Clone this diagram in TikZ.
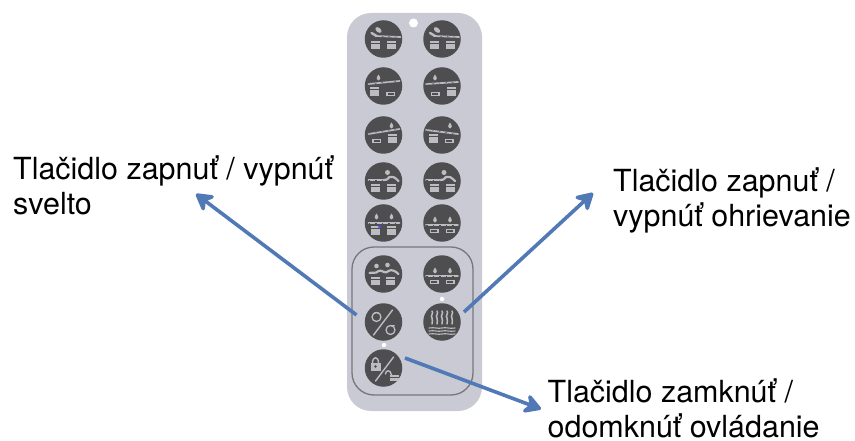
\documentclass[tikz,border=0pt]{standalone}
\usepackage{fontspec}
\setmainfont{TeX Gyre Heros}
\usetikzlibrary{arrows.meta}
\definecolor{bodyc}{HTML}{C9CAD3}
\definecolor{btnc}{HTML}{4E4E50}
\definecolor{glyphc}{HTML}{BDBDC1}
\definecolor{framec}{HTML}{77777D}
\definecolor{arrowc}{HTML}{5079B5}
\tikzset{x=1pt,y=-1pt,
  btn/.style={circle,fill=btnc,draw=none,minimum size=37.5pt,inner sep=0pt},
  lbl/.style={font=\fontsize{30.45}{35.6}\selectfont,text=black,align=left,anchor=north west,inner sep=0pt},
  callout/.style={draw=arrowc,line width=3.6pt,-{Stealth[length=21pt,width=24pt,inset=7pt,round]}},
  gl/.style={draw=glyphc,line width=1.7pt,line cap=round,line join=round},
  dot/.style={circle,fill=white,draw=none,inner sep=0pt}}
% pot: centre x, top y1, bottom y2 (local to the button)
\newcommand{\pot}[3]{\fill[glyphc] (#1-4.5,#2) rectangle (#1+4.5,#3);
  \fill[btnc] (#1-4.5,#2+2) rectangle (#1+4.5,#2+3);}
\newcommand{\lowpot}[3]{\fill[glyphc] (#1-4.5,#2) rectangle (#1+4.5,#3);
  \fill[btnc] (#1-3,#2+1) rectangle (#1+3,#3-1);}
\newcommand{\flame}[2]{\fill[glyphc] (#1,#2-3.5) .. controls (#1+2.8,#2) and (#1+2,#2+2.5) .. (#1,#2+2.5) .. controls (#1-2,#2+2.5) and (#1-2.8,#2) .. (#1,#2-3.5);}
\newcommand{\beam}[4]{\draw[gl] (#1,#2) -- (#3,#4);
  \draw[btnc,line width=.5pt,dash pattern=on 1.5pt off 5pt] (#1,#2) -- (#3,#4);}
\newcommand{\bentleg}[2]{\draw[gl,line width=2.2pt] (#1-6,#2+1) .. controls (#1-3,#2+1) .. (#1,#2-2) .. controls (#1+3,#2-3) and (#1+5,#2-2) .. (#1+9,#2+2);
  \fill[glyphc] (#1-2,#2-6.5) circle (2.5pt);}
\begin{document}
\begin{tikzpicture}
\useasboundingbox (0,0) rectangle (855,441);
\fill[bodyc,rounded corners=24pt] (347,13) rectangle (482,411);
\node[dot,minimum size=9pt] (topdot) at (413.5,23) {};
\draw[framec,line width=1.3pt,rounded corners=22pt] (352,247) rectangle (473,395);
% buttons
\node[btn] (a1) at (383.5,39) {};   \node[btn] (b1) at (442,39) {};
\node[btn] (a2) at (383.5,86) {};   \node[btn] (b2) at (442,86) {};
\node[btn] (a3) at (383.5,135) {};  \node[btn] (b3) at (442,135) {};
\node[btn] (a4) at (383.5,181) {};  \node[btn] (b4) at (442,181) {};
\node[btn] (a5) at (383.5,223) {};  \node[btn] (b5) at (442,223) {};
\node[btn] (a6) at (383.5,274) {};  \node[btn] (b6) at (442,274) {};
\node[btn] (a7) at (383.5,322) {};  \node[btn] (b7) at (442,322) {};
\node[btn] (a8) at (383.5,368) {};
\node[dot,minimum size=4.5pt] (dotb7) at (442,299) {};
\node[dot,minimum size=4.5pt] (dota8) at (384,345) {};
% row 1
\foreach \n in {a1,b1}{\begin{scope}[shift={(\n.center)}]
  \beam{-8}{-3}{17}{-2}\pot{-8}{2}{10}\pot{8}{2}{10}
  \draw[gl,line width=2.4pt] (-12,-6) -- (-7,-3);
  \fill[glyphc,rotate around={-40:(-5,-9)}] (-5,-9) ellipse (3.6pt and 2.2pt);
\end{scope}}
% row 2
\begin{scope}[shift={(a2.center)}]
  \beam{-15}{-2}{16}{-5}\pot{-9}{1}{10}\lowpot{7}{6}{10}\flame{-5}{-8}
\end{scope}
\begin{scope}[shift={(b2.center)}]
  \beam{-16}{-2}{16}{-4}\pot{9}{1}{10}\lowpot{-7}{6}{10}\flame{-7}{-8}
\end{scope}
% row 3
\begin{scope}[shift={(a3.center)}]
  \beam{-15}{-1}{16}{-6}\pot{9}{-1}{8}\lowpot{-7}{4}{8}\flame{8}{-9}
\end{scope}
\begin{scope}[shift={(b3.center)}]
  \beam{-16}{-5}{16}{-1}\pot{-9}{-1}{8}\lowpot{7}{4}{8}\flame{8}{-9}
\end{scope}
% row 4
\begin{scope}[shift={(a4.center)}]
  \beam{-15}{-1}{2}{-1}\pot{-8}{3}{11}\pot{8}{3}{11}\bentleg{6}{-2}
\end{scope}
\begin{scope}[shift={(b4.center)}]
  \beam{-16}{-1}{0}{-1}\pot{-8}{3}{11}\pot{8}{3}{11}\bentleg{4}{-2}
\end{scope}
% row 5
\begin{scope}[shift={(a5.center)}]
  \beam{-15}{0}{16}{0}\pot{-8}{3}{12}\pot{8}{3}{12}\flame{-7}{-6}\flame{8}{-6}
  \fill[blue!70!white] (-4,4) circle (1.6pt);
\end{scope}
\begin{scope}[shift={(b5.center)}]
  \beam{-16}{2}{16}{2}\lowpot{-8}{6}{10}\lowpot{8}{6}{10}\flame{-7}{-3}\flame{8}{-3}
\end{scope}
% row 6
\begin{scope}[shift={(a6.center)}]
  \draw[gl,line width=2.2pt] (-14,-1) .. controls (-10,-2) and (-8,0) .. (-5,-3) .. controls (-2,-5) and (2,1) .. (5,-3) .. controls (8,-5) and (12,-3) .. (15,0);
  \pot{-8}{3}{11}\pot{7}{3}{11}
  \fill[glyphc] (-7,-8) circle (2.3pt) (4,-9) circle (2.3pt);
\end{scope}
\begin{scope}[shift={(b6.center)}]
  \beam{-16}{2}{16}{2}\lowpot{-8}{6}{10}\lowpot{8}{6}{10}\flame{-7}{-3}\flame{8}{-3}
\end{scope}
% row 7 left: percent-like switch
\begin{scope}[shift={(a7.center)}]
  \draw[gl,line width=1.4pt] (-10,13) -- (9,-12);
  \draw[gl,line width=1.3pt] (-7,-5) circle (4.5pt);
  \draw[gl,line width=1.3pt] (7,8) circle (4.5pt);
  \draw[gl,line width=.9pt] (-9,-10) -- (-5,-10);
  \draw[gl,line width=.9pt] (11,3) -- (8,3);
\end{scope}
% row 7 right: steam and waves
\begin{scope}[shift={(b7.center)}]
  \foreach \sx in {-10,-5,0,5,10}{
    \draw[gl,line width=1.5pt] (\sx,-11) .. controls (\sx+2,-9) and (\sx-2,-6) .. (\sx,-4) .. controls (\sx+2,-2) and (\sx-1,0) .. (\sx,2);}
  \foreach \sy in {6,9,12}{
    \draw[gl,line width=1.1pt] (-13,\sy) .. controls (-8,\sy-1) and (-4,\sy+1) .. (0,\sy) .. controls (4,\sy-1) and (8,\sy+1) .. (13,\sy);}
\end{scope}
% row 8: lock / hand
\begin{scope}[shift={(a8.center)}]
  \draw[gl,line width=1.4pt] (-8,13) -- (10,-11);
  \fill[glyphc] (-13,-5) rectangle (-3,3);
  \draw[gl,line width=1.4pt] (-11,-5) .. controls (-11,-12) and (-5,-12) .. (-5,-5);
  \fill[btnc] (-8,-1.5) circle (1.3pt);
  \draw[gl,line width=1.4pt] (2,6) .. controls (2,2) and (7,1) .. (8,7);
  \fill[glyphc] (6,7) rectangle (15,13);
  \fill[btnc] (6,9.3) rectangle (15,10.3);
\end{scope}
% labels
\node[lbl] (t1) at (13,155) {Tlačidlo zapnuť / vypnúť\\svelto};
\node[lbl] (t2) at (613,167) {Tlačidlo zapnuť /\\vypnúť ohrievanie};
\node[lbl] (t3) at (547.5,378) {Tlačidlo zamknúť /\\odomknúť ovládanie};
% connectors
\coordinate (h1) at (196,194);
\coordinate (h2) at (593,193);
\coordinate (h3) at (541,409);
\path (a7.center) ++(-27,-7) coordinate (s1);
\path (b7.center) ++(22,-10) coordinate (s2);
\path (a8.center) ++(21.5,-10) coordinate (s3);
\draw[callout] (s1) -- (h1);
\draw[callout] (s2) -- (h2);
\draw[callout] (s3) -- (h3);
\end{tikzpicture}
\end{document}
